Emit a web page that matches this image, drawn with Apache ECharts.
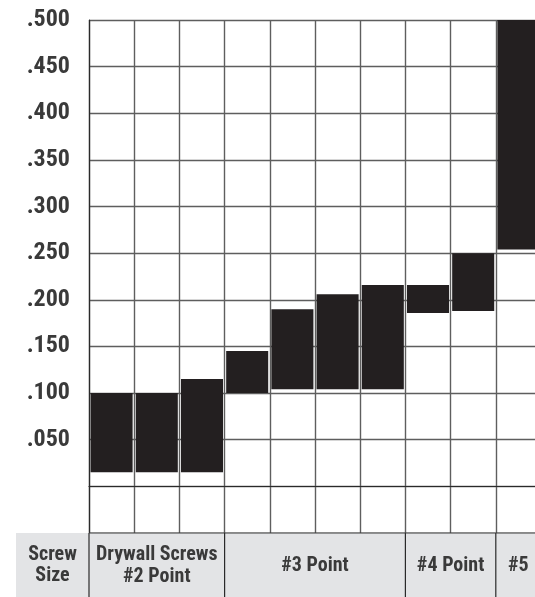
<!DOCTYPE html>
<html>
<head>
<meta charset="utf-8">
<script src="https://cdn.jsdelivr.net/npm/echarts@6/dist/echarts.min.js"></script>
<style>
  html, body { margin: 0; padding: 0; background: #fff; }
  #chart { width: 535px; height: 597px; }
</style>
</head>
<body>
<div id="chart"></div>
<script>
// Screw sizes: each column is one screw, drawn as a floating bar from low to high (inches)
const columns = ['c1', 'c2', 'c3', 'c4', 'c5', 'c6', 'c7', 'c8', 'c9', 'c10'];
const lowValues  = [0.015, 0.015, 0.015, 0.100, 0.104, 0.104, 0.104, 0.186, 0.188, 0.254];
const highValues = [0.100, 0.100, 0.115, 0.145, 0.190, 0.206, 0.216, 0.216, 0.250, 0.500];

// Point-size groups shown in the table row under the chart
const groupLabels = ['Drywall Screws\n#2 Point', '#3 Point', '#4 Point', '#5'];
const groupStart  = [0, 3, 7, 9];
const groupEnd    = [2, 6, 8, 9];
const headerLabel = 'Screw\nSize';

// Axis range and ticks
const yMin = -0.05, yMax = 0.5, yStep = 0.05;

const FONT = '"Roboto Condensed", "Open Sans Condensed", sans-serif';
const TEXT = '#3a3a3a';
const INK = '#231f20';
const CELL = '#e3e4e6';
const ROW_H = 64;

const chart = echarts.init(document.getElementById('chart'), null, { renderer: 'canvas' });

const barData = columns.map((c, i) => [i, lowValues[i], highValues[i]]);
const tableData = groupLabels.map((g, i) => [groupStart[i], groupEnd[i], g]);

chart.setOption({
  animation: false,
  backgroundColor: '#fff',
  grid: { left: 89, top: 20, width: 452, height: 513, outerBoundsMode: 'none', containLabel: false },
  xAxis: {
    type: 'category',
    data: columns,
    boundaryGap: true,
    axisLine: { show: true, lineStyle: { color: '#2a2a2a', width: 1.2 } },
    axisTick: { show: false },
    axisLabel: { show: false },
    splitLine: { show: true, interval: 0, lineStyle: { color: '#5e5e5e', width: 1.4 } }
  },
  yAxis: {
    type: 'value',
    min: yMin,
    max: yMax,
    interval: yStep,
    axisLine: { show: true, lineStyle: { color: '#2a2a2a', width: 1.2 } },
    axisTick: { show: false },
    splitLine: { show: true, lineStyle: { color: '#5e5e5e', width: 1.4 } },
    axisLabel: {
      margin: 19,
      color: TEXT,
      fontFamily: FONT,
      fontWeight: 'bold',
      fontSize: 24,
      formatter: v => (v < 0.049 ? '' : v.toFixed(3).replace(/^0/, ''))
    }
  },
  series: [
    {
      name: 'range',
      type: 'custom',
      data: barData,
      encode: { x: 0, y: [1, 2] },
      z: 3,
      renderItem: (params, api) => {
        const i = api.value(0);
        const lo = api.coord([i, api.value(1)]);
        const hi = api.coord([i, api.value(2)]);
        const w = api.size([1, 0])[0] * 0.93;
        return {
          type: 'rect',
          shape: { x: lo[0] - w / 2, y: hi[1], width: w, height: lo[1] - hi[1] },
          style: { fill: INK }
        };
      }
    },
    {
      name: 'table',
      type: 'custom',
      data: tableData,
      clip: false,
      silent: true,
      z: 4,
      renderItem: (params, api) => {
        const band = api.size([1, 0])[0];
        const a = api.coord([api.value(0), yMin]);
        const b = api.coord([api.value(1), yMin]);
        const x0 = a[0] - band / 2;
        const x1 = b[0] + band / 2;
        const y0 = a[1];
        const children = [
          { type: 'rect', shape: { x: x0, y: y0, width: x1 - x0, height: ROW_H }, style: { fill: CELL } },
          { type: 'line', shape: { x1: x0, y1: y0, x2: x0, y2: y0 + ROW_H }, style: { stroke: '#2a2a2a', lineWidth: 1.2 } },
          { type: 'line', shape: { x1: x0, y1: y0, x2: x1, y2: y0 }, style: { stroke: '#3a3a3a', lineWidth: 1.2 } },
          {
            type: 'text',
            style: {
              x: (x0 + x1) / 2, y: y0 + 33,
              text: groupLabels[params.dataIndex],
              fill: TEXT, font: 'bold 20px ' + FONT,
              align: 'center', verticalAlign: 'middle', lineHeight: 22
            }
          }
        ];
        if (params.dataIndex === 0) {
          children.unshift(
            { type: 'rect', shape: { x: 16, y: y0, width: x0 - 16, height: ROW_H }, style: { fill: CELL } },
            {
              type: 'text',
              style: {
                x: (16 + x0) / 2, y: y0 + 32,
                text: headerLabel,
                fill: TEXT, font: 'bold 20px ' + FONT,
                align: 'center', verticalAlign: 'middle', lineHeight: 21
              }
            }
          );
        }
        return { type: 'group', children };
      }
    }
  ]
});
</script>
</body>
</html>
